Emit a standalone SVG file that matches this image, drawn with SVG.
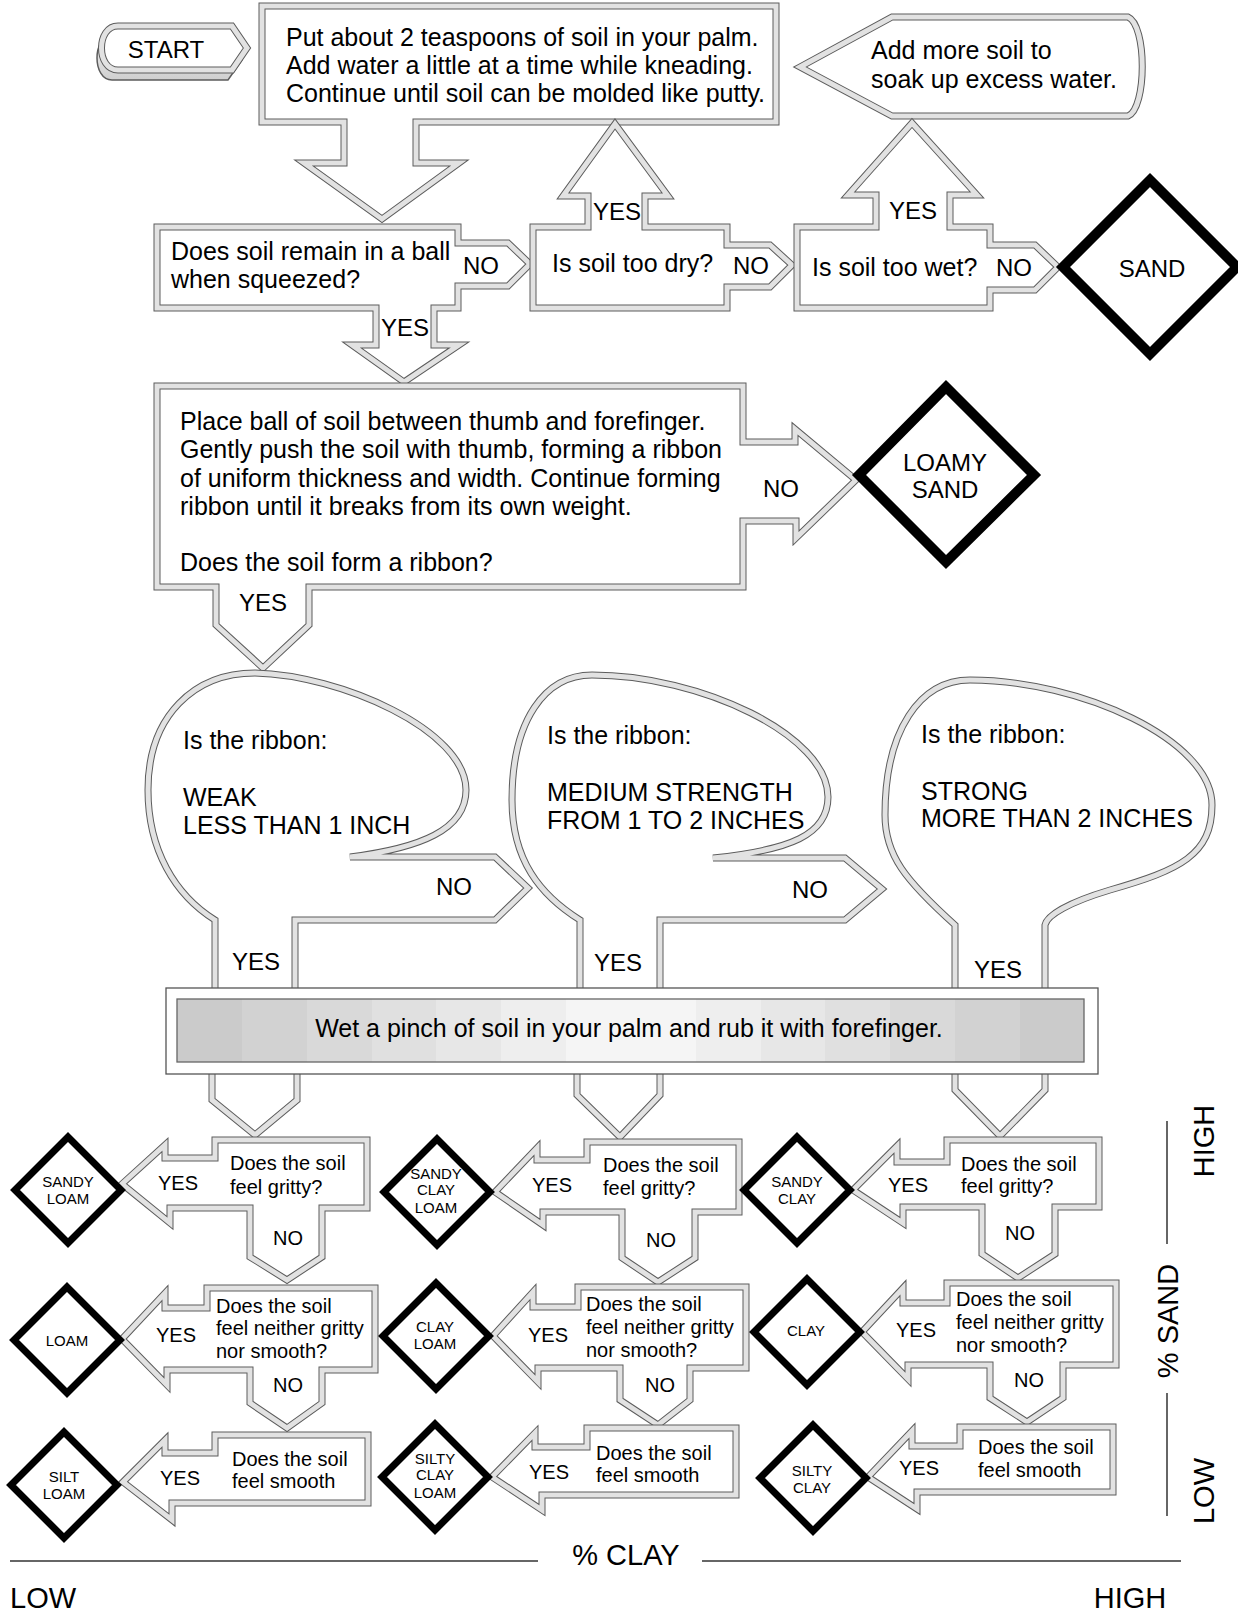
<svg xmlns="http://www.w3.org/2000/svg" width="1238" height="1612" viewBox="0 0 1238 1612">
<defs>
<style>
text { font-family: "Liberation Sans", Arial, sans-serif; fill: #000; }
.t25 { font-size: 25px; }
.t24 { font-size: 24px; }
.t20 { font-size: 20px; }
.t15 { font-size: 15px; }
.t29 { font-size: 29px; }
.m { text-anchor: middle; }
.o { fill: #fff; stroke: #5c5c5c; stroke-width: 7; stroke-miterlimit: 6; stroke-linejoin: miter; }
.b { fill: none; stroke: #e2e2e2; stroke-width: 5; stroke-miterlimit: 6; stroke-linejoin: miter; }
.dia { fill: #fff; stroke: #000; stroke-width: 7; stroke-linejoin: miter; }
.dbig { stroke-width: 10; }
.ax { stroke: #333; stroke-width: 1.5; fill: none; }
.bar { fill: #fff; stroke: #555; stroke-width: 1.3; }
.barin { fill: none; stroke: #666; stroke-width: 1.3; }
</style>
<linearGradient id="startg" x1="0" x2="0" y1="0" y2="1">
<stop offset="0" stop-color="#f2f2f2"/><stop offset="1" stop-color="#cfcfcf"/>
</linearGradient>
<path id="pStartBack" d="M 112,36 H 228 L 242,60 L 228,80 H 112 C 92,80 92,36 112,36 Z"/>
<path id="pStart" d="M 118,26 H 232 L 247,48 L 232,70 H 118 C 96,70 96,26 118,26 Z"/>
<path id="pA" d="M 262,6 H 776 V 122 H 416 V 163 H 459 L 382,219 L 304,163 H 344 V 122 H 262 Z"/>
<path id="pB" d="M 800,67 L 892,17 H 1128 C 1147,25 1147,108 1128,116 H 892 Z"/>
<path id="pE" d="M 157,227 H 458 V 243 H 508 L 530,264 L 508,286 H 458 V 308 H 434 V 345 H 459 L 404,382 L 352,345 H 376 V 308 H 157 Z"/>
<path id="pD" d="M 533,227 H 588 V 196 H 563 L 615,124 L 668,196 H 645 V 227 H 727 V 245 H 770 L 792,265 L 770,287 H 727 V 308 H 533 Z"/>
<path id="pC" d="M 797,227 H 876 V 195 H 848 L 912,123 L 977,195 H 950 V 227 H 990 V 245 H 1035 L 1058,267 L 1035,290 H 990 V 308 H 797 Z"/>
<path id="pF" d="M 157,386 H 743 V 442 H 795 V 429 L 856,480 L 796,538 V 521 H 743 V 587 H 309 V 625 L 263,668 L 216,625 V 587 H 157 Z"/>
<path id="pG1" d="M 215,995 V 920 C 175,895 148,850 148,790 C 148,715 195,673 255,673 C 340,675 466,730 466,790 C 466,830 420,848 350,857 H 495 L 528,888 L 495,920 H 295 V 995 Z"/>
<path id="pG2" d="M 580,995 V 920 C 540,895 512,860 512,800 C 512,720 545,675 592,675 C 700,675 828,735 828,797 C 828,835 790,850 713,858 H 845 L 882,889 L 845,920 H 660 V 995 Z"/>
<path id="pG3" d="M 955,995 V 925 C 905,880 885,855 885,815 C 885,730 920,680 970,680 C 1080,680 1212,740 1212,805 C 1212,855 1180,870 1110,890 C 1070,902 1047,915 1045,925 V 995 Z"/>
<path id="pD1" d="M 212,1068 V 1100 L 255,1135 L 297,1100 V 1068 Z"/>
<path id="pD2" d="M 577,1068 V 1095 L 620,1137 L 660,1095 V 1068 Z"/>
<path id="pD3" d="M 955,1068 V 1090 L 1000,1136 L 1045,1090 V 1068 Z"/>
<path id="q11" d="M 215,1140 H 367 V 1208 H 322 V 1257 L 287,1280 L 250,1257 V 1208 H 170 V 1223 L 122,1184 L 165,1145 V 1158 H 215 Z"/>
<path id="q12" d="M 207,1288 H 375 V 1370 H 322 V 1403 L 287,1428 L 250,1403 V 1370 H 167 V 1385 L 122,1339 L 165,1293 V 1308 H 207 Z"/>
<path id="q13" d="M 215,1435 H 368 V 1503 H 172 V 1520 L 123,1482 L 165,1440 V 1453 H 215 Z"/>
<path id="q21" d="M 587,1142 H 739 V 1212 H 695 V 1258 L 658,1282 L 622,1258 V 1212 H 543 V 1225 L 495,1192 L 537,1148 V 1160 H 587 Z"/>
<path id="q22" d="M 578,1287 H 746 V 1368 H 690 V 1400 L 658,1425 L 620,1400 V 1368 H 538 V 1382 L 493,1336 L 533,1292 V 1307 H 578 Z"/>
<path id="q23" d="M 587,1428 H 736 V 1495 H 542 V 1510 L 492,1477 L 535,1433 V 1447 H 587 Z"/>
<path id="q31" d="M 947,1140 H 1099 V 1207 H 1055 V 1254 L 1018,1278 L 982,1254 V 1207 H 903 V 1223 L 853,1190 L 897,1146 V 1162 H 947 Z"/>
<path id="q32" d="M 947,1283 H 1116 V 1365 H 1063 V 1398 L 1027,1422 L 990,1398 V 1365 H 908 V 1379 L 862,1332 L 903,1288 V 1303 H 947 Z"/>
<path id="q33" d="M 960,1427 H 1113 V 1492 H 917 V 1509 L 868,1477 L 912,1431 V 1446 H 960 Z"/>
</defs>
<rect x="0" y="0" width="1238" height="1612" fill="#fff"/>

<g id="start">
<use href="#pStartBack" fill="url(#startg)" stroke="#5c5c5c" stroke-width="1.5"/>
<use href="#pStart" class="o"/><use href="#pStart" class="b"/>
<text class="t24 m" x="166" y="58">START</text>
</g>

<g id="n-put-soil">
<use href="#pA" class="o"/><use href="#pA" class="b"/>
<text class="t25" x="286" y="46">Put about 2 teaspoons of soil in your palm.</text>
<text class="t25" x="286" y="74">Add water a little at a time while kneading.</text>
<text class="t25" x="286" y="102">Continue until soil can be molded like putty.</text>
</g>

<g id="n-add-soil">
<use href="#pB" class="o"/><use href="#pB" class="b"/>
<text class="t25" x="871" y="59">Add more soil to</text>
<text class="t25" x="871" y="88">soak up excess water.</text>
</g>

<g id="n-ball">
<use href="#pE" class="o"/><use href="#pE" class="b"/>
<text class="t25" x="171" y="260">Does soil remain in a ball</text>
<text class="t25" x="171" y="288">when squeezed?</text>
<text class="t24 m" x="481" y="274">NO</text>
<text class="t24 m" x="405" y="336">YES</text>
</g>

<g id="n-dry">
<use href="#pD" class="o"/><use href="#pD" class="b"/>
<text class="t25" x="552" y="272">Is soil too dry?</text>
<text class="t24 m" x="751" y="274">NO</text>
<text class="t24 m" x="617" y="220">YES</text>
</g>

<g id="n-wet">
<use href="#pC" class="o"/><use href="#pC" class="b"/>
<text class="t25" x="812" y="276">Is soil too wet?</text>
<text class="t24 m" x="1014" y="276">NO</text>
<text class="t24 m" x="913" y="219">YES</text>
</g>

<g id="n-sand">
<polygon class="dia dbig" points="1150,180 1237,267 1150,354 1063,267"/>
<text class="t24 m" x="1152" y="277">SAND</text>
</g>

<g id="n-ribbon">
<use href="#pF" class="o"/><use href="#pF" class="b"/>
<text class="t25" x="180" y="430">Place ball of soil between thumb and forefinger.</text>
<text class="t25" x="180" y="458">Gently push the soil with thumb, forming a ribbon</text>
<text class="t25" x="180" y="487">of uniform thickness and width.  Continue forming</text>
<text class="t25" x="180" y="515">ribbon until it breaks from its own weight.</text>
<text class="t25" x="180" y="571">Does the soil form a ribbon?</text>
<text class="t24 m" x="781" y="497">NO</text>
<text class="t24 m" x="263" y="611">YES</text>
</g>

<g id="n-loamy-sand">
<polygon class="dia dbig" points="946,387 1034,475 946,562 859,475"/>
<text class="t24 m" x="945" y="471">LOAMY</text>
<text class="t24 m" x="945" y="498">SAND</text>
</g>

<g id="n-weak">
<use href="#pG1" class="o"/><use href="#pG1" class="b"/>
<text class="t25" x="183" y="749">Is the ribbon:</text>
<text class="t25" x="183" y="806">WEAK</text>
<text class="t25" x="183" y="834">LESS THAN 1 INCH</text>
<text class="t24 m" x="454" y="895">NO</text>
<text class="t24 m" x="256" y="970">YES</text>
</g>

<g id="n-medium">
<use href="#pG2" class="o"/><use href="#pG2" class="b"/>
<text class="t25" x="547" y="744">Is the ribbon:</text>
<text class="t25" x="547" y="801">MEDIUM STRENGTH</text>
<text class="t25" x="547" y="829">FROM 1 TO 2 INCHES</text>
<text class="t24 m" x="810" y="898">NO</text>
<text class="t24 m" x="618" y="971">YES</text>
</g>

<g id="n-strong">
<use href="#pG3" class="o"/><use href="#pG3" class="b"/>
<text class="t25" x="921" y="743">Is the ribbon:</text>
<text class="t25" x="921" y="800">STRONG</text>
<text class="t25" x="921" y="827">MORE THAN 2 INCHES</text>
<text class="t24 m" x="998" y="978">YES</text>
</g>

<g id="connectors">
<use href="#pD1" class="o"/><use href="#pD1" class="b"/>
<use href="#pD2" class="o"/><use href="#pD2" class="b"/>
<use href="#pD3" class="o"/><use href="#pD3" class="b"/>
<line class="ax" x1="1167" y1="1121" x2="1167" y2="1244"/>
<line class="ax" x1="1167" y1="1393" x2="1167" y2="1516"/>
<line class="ax" x1="10" y1="1561" x2="538" y2="1561"/>
<line class="ax" x1="702" y1="1561" x2="1181" y2="1561"/>
</g>

<g id="n-wet-pinch">
<rect class="bar" x="166" y="988" width="932" height="86"/>
<g stroke="none">
<rect x="177" y="999" width="66" height="63" fill="#cbcbcb"/>
<rect x="242" y="999" width="66" height="63" fill="#d2d2d2"/>
<rect x="307" y="999" width="66" height="63" fill="#d9d9d9"/>
<rect x="372" y="999" width="65" height="63" fill="#e0e0e0"/>
<rect x="436" y="999" width="66" height="63" fill="#e7e7e7"/>
<rect x="501" y="999" width="66" height="63" fill="#eeeeee"/>
<rect x="566" y="999" width="66" height="63" fill="#f5f5f5"/>
<rect x="631" y="999" width="66" height="63" fill="#f5f5f5"/>
<rect x="696" y="999" width="66" height="63" fill="#eeeeee"/>
<rect x="761" y="999" width="65" height="63" fill="#e7e7e7"/>
<rect x="825" y="999" width="66" height="63" fill="#e0e0e0"/>
<rect x="890" y="999" width="66" height="63" fill="#d9d9d9"/>
<rect x="955" y="999" width="66" height="63" fill="#d2d2d2"/>
<rect x="1020" y="999" width="64" height="63" fill="#cbcbcb"/>
</g>
<rect class="barin" x="177" y="999" width="907" height="63"/>
<text class="t25 m" x="629" y="1037">Wet a pinch of soil in your palm and rub it with forefinger.</text>
</g>

<g id="q-c1-r1">
<use href="#q11" class="o"/><use href="#q11" class="b"/>
<text class="t20" x="230" y="1170">Does the soil</text>
<text class="t20" x="230" y="1194">feel gritty?</text>
<text class="t20 m" x="178" y="1190">YES</text>
<text class="t20 m" x="288" y="1245">NO</text>
</g>
<g id="q-c1-r2">
<use href="#q12" class="o"/><use href="#q12" class="b"/>
<text class="t20" x="216" y="1313">Does the soil</text>
<text class="t20" x="216" y="1335">feel neither gritty</text>
<text class="t20" x="216" y="1358">nor smooth?</text>
<text class="t20 m" x="176" y="1342">YES</text>
<text class="t20 m" x="288" y="1392">NO</text>
</g>
<g id="q-c1-r3">
<use href="#q13" class="o"/><use href="#q13" class="b"/>
<text class="t20" x="232" y="1466">Does the soil</text>
<text class="t20" x="232" y="1488">feel smooth</text>
<text class="t20 m" x="180" y="1485">YES</text>
</g>
<g id="q-c2-r1">
<use href="#q21" class="o"/><use href="#q21" class="b"/>
<text class="t20" x="603" y="1172">Does the soil</text>
<text class="t20" x="603" y="1195">feel gritty?</text>
<text class="t20 m" x="552" y="1192">YES</text>
<text class="t20 m" x="661" y="1247">NO</text>
</g>
<g id="q-c2-r2">
<use href="#q22" class="o"/><use href="#q22" class="b"/>
<text class="t20" x="586" y="1311">Does the soil</text>
<text class="t20" x="586" y="1334">feel neither gritty</text>
<text class="t20" x="586" y="1357">nor smooth?</text>
<text class="t20 m" x="548" y="1342">YES</text>
<text class="t20 m" x="660" y="1392">NO</text>
</g>
<g id="q-c2-r3">
<use href="#q23" class="o"/><use href="#q23" class="b"/>
<text class="t20" x="596" y="1460">Does the soil</text>
<text class="t20" x="596" y="1482">feel smooth</text>
<text class="t20 m" x="549" y="1479">YES</text>
</g>
<g id="q-c3-r1">
<use href="#q31" class="o"/><use href="#q31" class="b"/>
<text class="t20" x="961" y="1171">Does the soil</text>
<text class="t20" x="961" y="1193">feel gritty?</text>
<text class="t20 m" x="908" y="1192">YES</text>
<text class="t20 m" x="1020" y="1240">NO</text>
</g>
<g id="q-c3-r2">
<use href="#q32" class="o"/><use href="#q32" class="b"/>
<text class="t20" x="956" y="1306">Does the soil</text>
<text class="t20" x="956" y="1329">feel neither gritty</text>
<text class="t20" x="956" y="1352">nor smooth?</text>
<text class="t20 m" x="916" y="1337">YES</text>
<text class="t20 m" x="1029" y="1387">NO</text>
</g>
<g id="q-c3-r3">
<use href="#q33" class="o"/><use href="#q33" class="b"/>
<text class="t20" x="978" y="1454">Does the soil</text>
<text class="t20" x="978" y="1477">feel smooth</text>
<text class="t20 m" x="919" y="1475">YES</text>
</g>

<g id="r-sandy-loam">
<polygon class="dia" points="68,1137 121,1190 68,1243 15,1190"/>
<text class="t15 m" x="68" y="1187">SANDY</text><text class="t15 m" x="68" y="1204">LOAM</text>
</g>
<g id="r-loam">
<polygon class="dia" points="67,1287 120,1340 67,1393 14,1340"/>
<text class="t15 m" x="67" y="1346">LOAM</text>
</g>
<g id="r-silt-loam">
<polygon class="dia" points="64,1432 117,1485 64,1538 11,1485"/>
<text class="t15 m" x="64" y="1482">SILT</text><text class="t15 m" x="64" y="1499">LOAM</text>
</g>
<g id="r-sandy-clay-loam">
<polygon class="dia" points="437,1139 490,1192 437,1245 384,1192"/>
<text class="t15 m" x="436" y="1179">SANDY</text><text class="t15 m" x="436" y="1195">CLAY</text><text class="t15 m" x="436" y="1213">LOAM</text>
</g>
<g id="r-clay-loam">
<polygon class="dia" points="436,1283 489,1336 436,1389 383,1336"/>
<text class="t15 m" x="435" y="1332">CLAY</text><text class="t15 m" x="435" y="1349">LOAM</text>
</g>
<g id="r-silty-clay-loam">
<polygon class="dia" points="435,1424 488,1477 435,1530 382,1477"/>
<text class="t15 m" x="435" y="1464">SILTY</text><text class="t15 m" x="435" y="1480">CLAY</text><text class="t15 m" x="435" y="1498">LOAM</text>
</g>
<g id="r-sandy-clay">
<polygon class="dia" points="797,1137 850,1190 797,1243 744,1190"/>
<text class="t15 m" x="797" y="1187">SANDY</text><text class="t15 m" x="797" y="1204">CLAY</text>
</g>
<g id="r-clay">
<polygon class="dia" points="807,1279 860,1332 807,1385 754,1332"/>
<text class="t15 m" x="806" y="1336">CLAY</text>
</g>
<g id="r-silty-clay">
<polygon class="dia" points="813,1425 866,1478 813,1531 760,1478"/>
<text class="t15 m" x="812" y="1476">SILTY</text><text class="t15 m" x="812" y="1493">CLAY</text>
</g>

<g id="axes-labels">
<text class="t29 m" transform="translate(1214,1141) rotate(-90)">HIGH</text>
<text class="t29 m" transform="translate(1178,1321) rotate(-90)">% SAND</text>
<text class="t29 m" transform="translate(1214,1491) rotate(-90)">LOW</text>
<text class="t29 m" x="626" y="1565">% CLAY</text>
<text class="t29" x="10" y="1608">LOW</text>
<text class="t29 m" x="1130" y="1608">HIGH</text>
</g>
</svg>
